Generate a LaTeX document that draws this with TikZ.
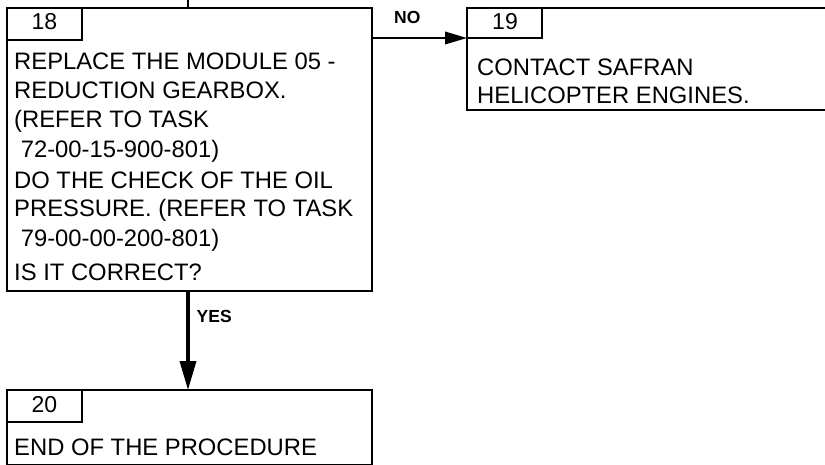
\documentclass[tikz,border=0pt]{standalone}
\usepackage{fontspec}
\setmainfont{Liberation Sans}
\usetikzlibrary{arrows.meta}
\tikzset{
  mainbox/.style={draw, line width=2.5pt, rectangle, anchor=north west, inner sep=0pt, outer sep=0pt},
  numbox/.style={draw, line width=2pt, rectangle, anchor=north west, inner sep=0pt, outer sep=0pt, minimum width=75pt, minimum height=31.5pt},
  numtext/.style={anchor=base, inner sep=0pt, font=\fontsize{23}{28}\selectfont},
  bodytext/.style={anchor=base west, inner sep=0pt, font=\fontsize{23.8}{29}\selectfont},
  flowlabel/.style={inner sep=0pt, font=\bfseries\fontsize{17.5}{20}\selectfont},
  noarrow/.style={line width=2pt, -{Triangle[length=22pt,width=12.5pt]}},
  yesarrow/.style={line width=3.5pt, -{Triangle[length=29pt,width=16pt]}},
  inline/.style={line width=2pt}
}
\begin{document}
\begin{tikzpicture}[x=1pt,y=-1pt]
\useasboundingbox (0,0) rectangle (825,464);
\clip (0,0) rectangle (825,464);

% boxes
\node[mainbox, minimum width=365pt, minimum height=283pt] (box18) at (7,8) {};
\node[mainbox, minimum width=370pt, minimum height=102pt] (box19) at (467,8) {};
\node[mainbox, minimum width=365pt, minimum height=75pt] (box20) at (7,390) {};

% number boxes
\node[numbox] (n18) at (box18.north west) {};
\node[numbox, minimum height=30pt] (n19) at (box19.north west) {};
\node[numbox] (n20) at (box20.north west) {};
\node[numtext] (n18t) at (44.5,29.5) {18};
\node[numtext] (n19t) at (505,29.5) {19};
\node[numtext] (n20t) at (44.5,412.8) {20};

% box 18 text
\node[bodytext] (a1) at (14,69.5) {REPLACE THE MODULE 05 -};
\node[bodytext] (a2) at (14,98.3) {REDUCTION GEARBOX.};
\node[bodytext] (a3) at (14,127) {(REFER TO TASK};
\node[bodytext] (a4) at (14,157) {~72-00-15-900-801)};
\node[bodytext] (a5) at (14,188) {DO THE CHECK OF THE OIL};
\node[bodytext] (a6) at (14,216.7) {PRESSURE. (REFER TO TASK};
\node[bodytext] (a7) at (14,246.5) {~79-00-00-200-801)};
\node[bodytext] (a8) at (14,280) {IS IT CORRECT?};

% box 19 text
\node[bodytext] (b1) at (477,75.3) {CONTACT SAFRAN};
\node[bodytext] (b2) at (477,103.5) {HELICOPTER ENGINES.};

% box 20 text
\node[bodytext] (c1) at (14,455) {END OF THE PROCEDURE};

% incoming line at top
\coordinate (in18) at (188,0);
\draw[inline] (in18) -- (in18 |- box18.north);

% connectors
\draw[noarrow] ([yshift=-30pt]box18.north east) -- ([yshift=-30pt]box19.north west);
\draw[yesarrow] ([xshift=-1.5pt]box18.south) -- ([xshift=-1.5pt]box20.north);

% labels
\node[flowlabel, anchor=base] (lno) at (407.3,23.3) {NO};
\node[flowlabel, anchor=base west] (lyes) at (196.5,322) {YES};
\end{tikzpicture}
\end{document}
